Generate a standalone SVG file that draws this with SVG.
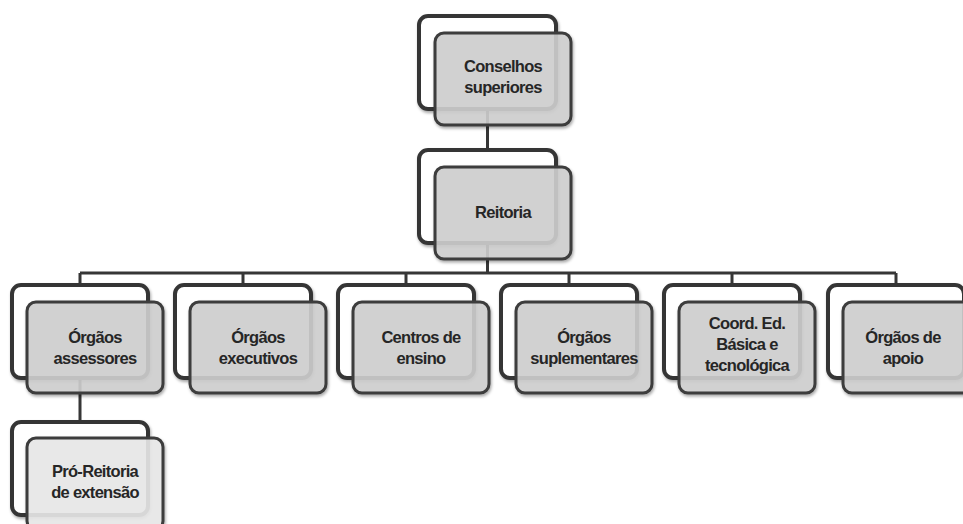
<svg xmlns="http://www.w3.org/2000/svg" width="963" height="524" viewBox="0 0 963 524">
<defs>
<filter id="sh" x="-10%" y="-10%" width="130%" height="130%">
<feDropShadow dx="1" dy="2" stdDeviation="1.5" flood-color="#000" flood-opacity="0.35"/>
</filter>
</defs>
<style>
.back{fill:#fff;stroke:#363636;stroke-width:4;filter:url(#sh)}
.front{fill:#d0d0d0;fill-opacity:0.88;stroke:#3c3c3c;stroke-width:3;filter:url(#sh)}
.front.light{fill:#ebebeb}
.con{stroke:#363636;stroke-width:3;fill:none}
text{font-family:"Liberation Sans",Arial,sans-serif;font-weight:bold;font-size:16.5px;fill:#262626;text-anchor:middle;letter-spacing:-0.7px}
</style>
<rect width="963" height="524" fill="#fff"/>
<g id="connectors">
<path class="con" d="M487.5 109V150M487.5 243V273M80 273H896M80 273V285M243 273V285M406 273V285M569 273V285M732 273V285M896 273V285M80 378V422"/>
</g>
<g id="conselhos">
<rect class="back" x="419" y="16" width="137" height="93" rx="9"/>
<rect class="front" x="435" y="33" width="136" height="92" rx="9"/>
<text x="503" y="72">Conselhos</text>
<text x="503" y="93">superiores</text>
</g>
<g id="reitoria">
<rect class="back" x="419" y="150" width="137" height="93" rx="9"/>
<rect class="front" x="435" y="167" width="136" height="92" rx="9"/>
<text x="503" y="218">Reitoria</text>
</g>
<g id="assessores">
<rect class="back" x="12" y="285" width="136" height="93" rx="9"/>
<rect class="front" x="27" y="302" width="136" height="91" rx="9"/>
<text x="95" y="343">Órgãos</text>
<text x="95" y="364">assessores</text>
</g>
<g id="executivos">
<rect class="back" x="175" y="285" width="136" height="93" rx="9"/>
<rect class="front" x="190" y="302" width="136" height="91" rx="9"/>
<text x="258" y="343">Órgãos</text>
<text x="258" y="364">executivos</text>
</g>
<g id="centros">
<rect class="back" x="338" y="285" width="136" height="93" rx="9"/>
<rect class="front" x="353" y="302" width="136" height="91" rx="9"/>
<text x="421" y="343">Centros de</text>
<text x="421" y="364">ensino</text>
</g>
<g id="suplementares">
<rect class="back" x="501" y="285" width="136" height="93" rx="9"/>
<rect class="front" x="516" y="302" width="136" height="91" rx="9"/>
<text x="584" y="343">Órgãos</text>
<text x="584" y="364">suplementares</text>
</g>
<g id="coord">
<rect class="back" x="664" y="285" width="136" height="93" rx="9"/>
<rect class="front" x="679" y="302" width="136" height="91" rx="9"/>
<text x="747" y="329">Coord. Ed.</text>
<text x="747" y="350">Básica e</text>
<text x="747" y="371">tecnológica</text>
</g>
<g id="apoio">
<rect class="back" x="828" y="285" width="136" height="93" rx="9"/>
<rect class="front" x="843" y="302" width="136" height="91" rx="9"/>
<text x="903" y="343">Órgãos de</text>
<text x="903" y="364">apoio</text>
</g>
<g id="proreitoria">
<rect class="back" x="12" y="422" width="136" height="93" rx="9"/>
<rect class="front light" x="27" y="438" width="136" height="92" rx="9"/>
<text x="95" y="477">Pró-Reitoria</text>
<text x="95" y="498">de extensão</text>
</g>
</svg>
